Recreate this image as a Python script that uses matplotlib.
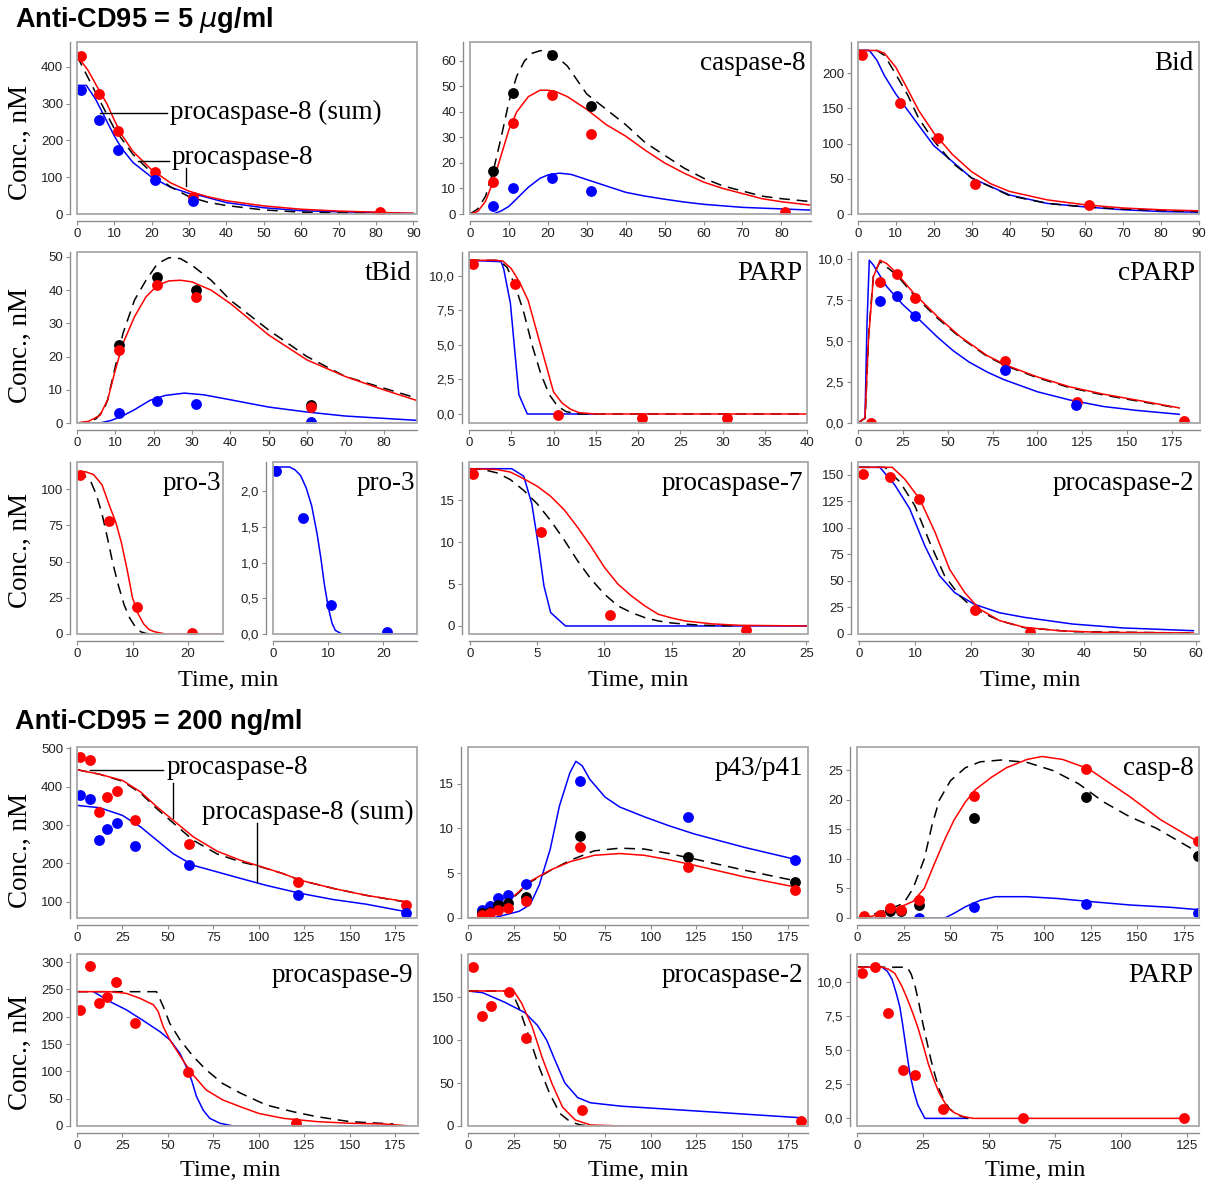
import matplotlib
matplotlib.use('Agg')
import matplotlib.pyplot as plt
from matplotlib.patches import Rectangle
from matplotlib.ticker import FuncFormatter

plt.rcParams['font.family'] = 'Liberation Sans'

W, H = 1210, 1187
fig = plt.figure(figsize=(W / 100, H / 100), dpi=100)

SERIF = 'Liberation Serif'
RED = '#ff0000'
BLUE = '#0000ff'
BLACK = '#000000'

# ---------------- Anti-CD95 = 5 ug/ml ----------------
# procaspase-8
pc8_t_red = [0, 3, 6, 8, 10, 12, 15, 20, 25, 30, 35, 40, 50, 60, 70, 80, 85, 90]
pc8_v_red = [432, 390, 335, 300, 255, 215, 170, 120, 85, 62, 47, 36, 22, 13, 8, 5, 3, 2]
pc8_t_blue = [0, 2.5, 5, 7, 10, 12, 15, 20, 25, 30, 33, 40, 50, 60, 70, 80, 85, 90]
pc8_v_blue = [350, 350, 312, 272, 212, 178, 140, 100, 73, 56, 50, 31, 17, 9, 6, 4, 2, 1]
pc8_t_blk = [0, 5, 10, 15, 20, 25, 30, 35, 40, 50, 60, 70, 80, 90]
pc8_v_blk = [430, 330, 232, 162, 112, 74, 47, 32, 23, 11, 5, 3, 2, 1]
pc8_dt_red = [1, 6, 11, 21, 31, 81]
pc8_dv_red = [430, 327, 225, 115, 47, 5]
pc8_dt_blue = [1, 6, 11, 21, 31]
pc8_dv_blue = [338, 257, 175, 92, 35]

# caspase-8
c8_t_blk = [0, 2, 4, 6, 8, 10, 12, 14, 16, 18, 20, 22, 25, 30, 35, 40, 45, 50, 55, 60, 65, 70, 75, 80, 88]
c8_v_blk = [0, 2, 7, 17, 30, 44, 54, 60, 63, 64, 64, 62, 58, 47, 41, 35, 28, 23, 18, 14, 11, 9, 7, 6, 4.8]
c8_t_red = [0, 2, 4, 6, 8, 10, 12, 15, 18, 20, 22, 25, 30, 35, 40, 45, 50, 55, 60, 65, 70, 75, 80, 88]
c8_v_red = [0, 1, 5, 13, 23, 33, 40, 46, 48.5, 48.5, 48, 46, 41, 35, 30.5, 25, 20, 16, 12.5, 10, 8, 6, 4.8, 3.4]
c8_t_blue = [0, 6, 8, 10, 12, 15, 18, 20, 23, 26, 30, 35, 40, 45, 50, 55, 60, 70, 80, 88]
c8_v_blue = [0, 0, 1.2, 3, 6, 10.5, 14, 15.3, 16, 15.5, 13.5, 11, 8.5, 7, 5.8, 4.7, 3.8, 2.6, 2, 1.5]
c8_dt_blk = [6, 11, 21, 31]
c8_dv_blk = [17, 47.5, 62.5, 42.5]
c8_dt_red = [6, 11, 21, 31, 81]
c8_dv_red = [12.5, 35.5, 46.5, 31.5, 0.8]
c8_dt_blue = [6, 11, 21, 31]
c8_dv_blue = [3, 10, 14, 9]

# Bid
bid_t_red = [0, 5, 7, 10, 13, 16, 20, 25, 30, 35, 40, 50, 60, 70, 80, 90]
bid_v_red = [232, 232, 228, 208, 178, 147, 115, 84, 60, 43, 32, 20, 13, 8.5, 6, 4.5]
bid_t_blue = [0, 3, 5, 7, 10, 13, 16, 20, 25, 30, 40, 50, 60, 70, 80, 90]
bid_v_blue = [232, 232, 218, 196, 170, 148, 126, 97, 74, 51, 27, 15, 10, 6, 3.5, 2.5]
bid_t_blk = [0, 5, 7, 10, 13, 16, 20, 25, 30, 40, 50, 60, 70, 80, 90]
bid_v_blk = [232, 232, 225, 198, 170, 136, 104, 72, 51, 26, 15, 10, 7, 5, 3.5]
bid_dt_red = [1, 11, 21, 31, 61]
bid_dv_red = [226, 157, 108, 43, 13]

# tBid
tbid_t_blk = [0, 3, 5, 7, 8, 10, 12, 15, 18, 21, 24, 27, 30, 35, 40, 50, 60, 70, 80, 88.6]
tbid_v_blk = [0, 0.3, 1.3, 4, 7, 17, 27, 37, 43, 48, 49.8, 49.5, 47.5, 43, 37, 28, 20, 14, 10.5, 7.5]
tbid_t_red = [0, 3, 6, 8, 10, 12, 15, 18, 21, 24, 27, 30, 35, 40, 50, 60, 70, 80, 88.6]
tbid_v_red = [0, 0.5, 2.3, 7, 16, 24, 32, 38, 41.5, 42.8, 43, 42.5, 40, 36, 26.5, 19, 14, 10, 6.8]
tbid_t_blue = [0, 6, 9, 12, 15, 19, 23, 28, 33, 40, 50, 60, 70, 80, 88.6]
tbid_v_blue = [0, 0, 0.8, 2.2, 4, 6.8, 8.3, 9, 8.5, 7, 4.8, 3.3, 2.1, 1.4, 0.8]
tbid_dt = [11, 21, 31, 61]
tbid_dv_blk = [23.5, 44, 40, 5.5]
tbid_dv_red = [22, 41.5, 37.8, 4.8]
tbid_dv_blue = [3, 6.5, 5.7, 0.2]

# PARP (5 ug/ml)
parp_t_red = [0, 3, 4, 5, 6, 7, 8, 9, 10, 11, 12, 13, 15, 40]
parp_v_red = [11.1, 11.1, 11.05, 10.5, 9.5, 8.2, 6.0, 3.8, 1.6, 0.8, 0.35, 0.1, 0, 0]
parp_t_blk = [0, 3.5, 4.5, 5.5, 6.5, 7.5, 8.5, 9.5, 10.5, 11.5, 13, 40]
parp_v_blk = [11.1, 11.1, 10.6, 9.2, 7.3, 4.9, 2.9, 1.4, 0.55, 0.17, 0, 0]
parp_t_blue = [0, 3.8, 4.1, 4.9, 5.5, 5.9, 6.9, 15]
parp_v_blue = [11.1, 11.0, 10.5, 8, 4, 1.4, 0, 0]
parp_dt_red = [0.5, 5.5, 10.5, 20.5, 30.5]
parp_dv_red = [10.8, 9.4, -0.1, -0.3, -0.3]

# cPARP
cparp_t_blue = [0, 3.9, 5, 6.3, 8.6, 16, 25, 35, 44, 53, 62, 72, 81, 100, 118, 137, 155, 179]
cparp_v_blue = [0, 0.3, 6, 9.9, 9.6, 8.3, 7.2, 6.2, 5.25, 4.4, 3.7, 3.1, 2.65, 1.9, 1.4, 1.0, 0.77, 0.53]
cparp_t_red = [0, 3.9, 5.8, 8.6, 12.3, 16, 21.6, 31, 44, 57, 72, 83, 100, 118, 137, 155, 179]
cparp_v_red = [0, 0.3, 5, 8.9, 9.9, 9.7, 9.1, 7.9, 6.5, 5.25, 4.1, 3.5, 2.8, 2.2, 1.75, 1.4, 0.92]
cparp_t_blk = [0, 4, 6, 8.6, 12.3, 21.6, 31, 44, 57, 72, 83, 100, 118, 137, 155, 179]
cparp_v_blk = [0, 0.3, 5.5, 9, 9.8, 9.0, 7.8, 6.4, 5.2, 4.05, 3.45, 2.75, 2.15, 1.7, 1.35, 0.9]
cparp_dt_red = [7, 12.3, 21.9, 32, 82, 122, 181.8]
cparp_dv_red = [0, 8.6, 9.05, 7.6, 3.75, 1.3, 0.1]
cparp_dt_blue = [12.3, 21.9, 32, 82, 121.6]
cparp_dv_blue = [7.4, 7.75, 6.5, 3.2, 1.1]

# procaspase-3 (total / second form)
p3_t_red = [0, 1.5, 3, 4.5, 6, 7, 8, 9, 10, 11, 12, 13, 14, 16, 26.3]
p3_v_red = [112, 112, 110, 103, 87, 77, 63, 45, 25, 14, 7, 3, 1.5, 0, 0]
p3_t_blk = [0, 1, 2.4, 3.5, 4.5, 5.5, 6.5, 7.5, 8.5, 9.5, 10.5, 11.5, 12.5, 14]
p3_v_blk = [112, 110, 106, 96, 83, 66, 48, 33, 20, 11, 5, 1.5, 0.3, 0]
p3_dt_red = [0.6, 5.8, 10.8, 20.8]
p3_dv_red = [110, 78, 18.5, 0.8]
p3b_t_blue = [0, 3, 4, 5, 6, 7, 8, 8.7, 9.3, 10, 10.7, 11.3, 12.5, 26.1]
p3b_v_blue = [2.34, 2.34, 2.3, 2.22, 2.05, 1.8, 1.4, 1.05, 0.7, 0.38, 0.15, 0.05, 0, 0]
p3b_dt_blue = [0.5, 5.4, 10.5, 20.7]
p3b_dv_blue = [2.29, 1.63, 0.4, 0.03]

# procaspase-7
p7_t_blue = [0, 3.1, 4, 4.6, 5.1, 5.5, 6, 7.1, 25]
p7_v_blue = [18.8, 18.8, 17.9, 14.6, 9.5, 4.8, 1.6, 0, 0]
p7_t_red = [0, 2, 3, 4, 5, 6, 7, 8, 9, 10, 11, 12, 13, 14, 15, 16, 18, 20, 25]
p7_v_red = [18.8, 18.7, 18.4, 17.6, 16.7, 15.5, 13.9, 11.8, 9.5, 7, 5, 3.6, 2.4, 1.4, 0.95, 0.6, 0.25, 0.08, 0]
p7_t_blk = [0, 1, 2, 3, 4, 5, 6, 7, 8, 9, 10, 11, 12, 13, 14, 15, 17, 20]
p7_v_blk = [18.8, 18.7, 18.3, 17.5, 16.2, 14.6, 12.6, 10.3, 7.8, 5.6, 3.8, 2.4, 1.6, 1.0, 0.6, 0.35, 0.1, 0]
p7_dt_red = [0.25, 5.3, 10.4, 20.5]
p7_dv_red = [18.2, 11.2, 1.3, -0.5]

# procaspase-2 (5 ug/ml)
p2_t_blue = [0, 3.7, 6.4, 9, 11.7, 14.3, 17, 20.5, 25, 29.4, 38, 47, 52, 59.5]
p2_v_blue = [157, 157, 140, 118, 83, 55, 39, 28, 20, 15.7, 9.4, 5.7, 4.7, 3.1]
p2_t_red = [0, 5.9, 8.1, 10.8, 13.5, 16.1, 18.8, 21.4, 25, 29.4, 35.6, 42.7, 59.5]
p2_v_red = [157, 157, 146, 127, 96, 61, 39, 23.6, 12.6, 6.3, 3.1, 1.6, 1]
p2_t_blk = [0, 4.6, 7.3, 9.9, 12.6, 15.2, 17.9, 20.5, 25, 29.4, 38, 59.5]
p2_v_blk = [157, 157, 143, 121, 86, 55, 36, 23.6, 12.6, 6, 2.2, 0.9]
p2_dt_red = [0.7, 5.5, 10.7, 20.6, 30.5]
p2_dv_red = [151, 148, 127, 23, 1.5]

# ---------------- Anti-CD95 = 200 ng/ml ----------------
# procaspase-8
lo_pc8_t_red = [0, 12.5, 25, 35, 44, 53, 64, 77, 90, 99, 113, 123, 141, 159, 181.4]
lo_pc8_v_red = [444, 432, 416, 386, 347, 312, 269, 232, 208, 195, 174, 156, 135, 117, 100]
lo_pc8_t_blk = [0, 12.5, 25, 35, 44, 53, 64, 77, 90, 99, 113, 123, 141, 159, 181.4]
lo_pc8_v_blk = [444, 432, 414, 383, 342, 305, 260, 225, 204, 194, 174, 156, 135, 117, 99]
lo_pc8_t_blue = [0, 12.5, 25, 35, 44, 53, 64, 77, 90, 104, 123, 141, 159, 181.4]
lo_pc8_v_blue = [351, 345, 325, 295, 260, 225, 195, 178, 161, 143, 122, 106, 94, 74]
lo_pc8_dt = [1.8, 7.3, 11.9, 16.7, 22, 31.8, 61.7, 121.7, 181]
lo_pc8_dv_red = [478, 468, 334, 373, 388, 314, 250, 152, 91]
lo_pc8_dv_blue = [377, 367, 262, 290, 305, 245, 195, 119, 70]

# p43/p41
p43_t_blue = [0, 15, 28, 34, 39, 45, 50, 55.7, 59, 62.5, 66.6, 75, 83, 96.5, 110, 123.6, 151, 178]
p43_v_blue = [0, 0.07, 0.75, 1.5, 3.7, 7.7, 12.5, 16.2, 17.5, 17, 15.5, 13.5, 12.4, 11.3, 10.3, 9.4, 7.9, 6.6]
p43_t_red = [0, 7, 15, 26, 34, 45, 56, 69, 83, 96.5, 110, 123.6, 151, 178]
p43_v_red = [0, 0, 1.1, 2.6, 4.1, 5.35, 6.3, 7.0, 7.2, 7.0, 6.5, 5.9, 4.6, 3.5]
p43_t_blk = [0, 7, 15, 26, 34, 45, 56, 69, 83, 96.5, 110, 123.6, 151, 178]
p43_v_blk = [0, 0, 1.0, 2.5, 4.0, 5.3, 6.45, 7.5, 7.8, 7.7, 7.2, 6.6, 5.35, 4.2]
p43_dt = [7.7, 12, 16.5, 22, 32, 61.5, 120.5, 179]
p43_dv_blue = [0.9, 1.3, 2.2, 2.6, 3.8, 15.3, 11.25, 6.45]
p43_dv_blk = [0.55, 0.7, 1.5, 1.7, 2.3, 9.2, 6.8, 4.0]
p43_dv_red = [0.37, 0.55, 0.9, 1.1, 1.85, 7.9, 5.7, 3.1]

# casp-8
lc8_t_red = [0, 8, 22, 30, 36, 41, 47, 52, 58, 63, 72, 80, 91, 99, 110, 124, 146, 162.5, 183]
lc8_v_red = [0, 0.3, 1.7, 2.8, 5, 8.85, 13.3, 16.6, 19.6, 21.6, 23.8, 25.4, 26.8, 27.3, 26.8, 25.2, 20.5, 16.6, 12.8]
lc8_t_blk = [0, 8, 19, 25, 30, 36, 40, 44, 50, 58, 66, 77, 91, 105, 118.5, 132, 146, 160, 183]
lc8_v_blk = [0, 0.55, 1.7, 2.5, 5, 10, 15.5, 19.9, 23.2, 25.4, 26.4, 26.7, 26.3, 24.9, 22.7, 19.6, 17.1, 15.2, 11]
lc8_t_blue = [0, 47, 52, 58, 66, 74, 91, 107, 124, 146, 168, 183]
lc8_v_blue = [0, 0, 0.8, 1.9, 3.0, 3.6, 3.6, 3.3, 2.8, 2.2, 1.8, 1.4]
lc8_dt_red = [4, 12.4, 17.9, 23.4, 33, 62.5, 122.5, 182.5]
lc8_dv_red = [0.3, 0.55, 1.65, 1.4, 3, 20.7, 25.2, 13]
lc8_dt_blk = [17.9, 23.4, 33, 62.5, 122.5, 182.5]
lc8_dv_blk = [1.2, 1.1, 2.2, 16.9, 20.5, 10.5]
lc8_dt_blue = [33, 62.5, 122.5, 182.5]
lc8_dv_blue = [0, 1.9, 2.4, 0.9]

# procaspase-9
p9_t_red = [0, 18, 27, 34.5, 42, 44.6, 47.4, 51, 54.7, 59.3, 64, 71, 80, 90, 100, 113.5, 132, 150, 168.6, 181.4]
p9_v_red = [246, 246, 243, 234, 222, 210, 182, 158, 139, 115, 93, 66, 48, 35, 23, 14, 8, 5, 3.7, 0.5]
p9_t_blk = [0, 43.7, 47.4, 51, 56.6, 64, 71, 80, 90, 104, 119, 132, 150, 174]
p9_v_blk = [246, 246, 219, 188, 158, 127, 103, 78, 60, 38.5, 26, 17, 8, 3.7]
p9_t_blue = [9, 18, 27, 36, 45.5, 51, 56.6, 60, 63, 65.7, 69.4, 73, 78.6, 86, 174]
p9_v_blue = [246, 228, 213, 194, 173, 158, 133, 109, 84, 54, 29, 14, 5, 0, 0]
p9_dt_red = [1.8, 7, 11.9, 16.7, 21.7, 31.8, 61.1, 120.5]
p9_dv_red = [212, 293, 226, 236, 264, 188, 98, 6]

# procaspase-2 (200 ng/ml)
lp2_t_blue = [0, 8, 20, 31, 38, 43, 47.5, 53, 60, 67, 84, 112, 140, 168, 182]
lp2_v_blue = [157, 155, 144, 132, 117, 100, 77, 50, 33, 27, 23, 19.2, 15.4, 11.5, 9.6]
lp2_t_red = [0, 25, 29.3, 35, 40.5, 46, 51.7, 58.7, 67, 84, 182]
lp2_v_red = [157, 157, 143, 116, 80, 49, 22, 7, 1.2, 0, 0]
lp2_t_blk = [0, 23.7, 28, 33.5, 39, 44.7, 50.3, 55.9, 61.5, 67]
lp2_v_blk = [157, 157, 137, 103, 68, 37.6, 14.6, 5, 1.2, 0]
lp2_dt_red = [2.8, 7.8, 12.6, 22.3, 32, 62.3, 182]
lp2_dv_red = [185, 128, 139, 156, 102.5, 19, 5.8]

# PARP (200 ng/ml)
lparp_t_blue = [0, 9.5, 11.5, 13.3, 15, 16.2, 17.2, 18.1, 19, 20, 21.5, 23, 25.7, 42]
lparp_v_blue = [11.1, 11.1, 10.8, 10.2, 9.1, 8.2, 7.0, 5.8, 4.6, 3.3, 2.0, 1.0, 0, 0]
lparp_t_red = [0, 9.5, 12, 14.3, 17, 19, 21, 23, 25, 27, 29, 31, 34.3, 37, 40, 44, 125]
lparp_v_red = [11.1, 11.1, 10.95, 10.65, 9.7, 8.8, 7.8, 6.7, 5.4, 4.0, 2.9, 1.9, 0.8, 0.4, 0.15, 0, 0]
lparp_t_blk = [0, 19, 20.5, 22, 23.5, 25, 26.5, 28, 29.5, 31, 33, 35, 38, 42]
lparp_v_blk = [11.1, 11.1, 10.6, 9.7, 8.4, 6.9, 5.6, 4.3, 3.2, 2.2, 1.3, 0.7, 0.25, 0]
lparp_dt_red = [1.9, 6.7, 11.8, 17.5, 21.9, 32.4, 62.9, 123.8]
lparp_dv_red = [10.65, 11.15, 7.73, 3.54, 3.15, 0.7, 0, 0]

comma = FuncFormatter(lambda v, p: ('%.1f' % v).replace('.', ','))


def panel(x0, x1, ytop, ybot, xlim, ylim, xticks, yticks, title=None, fmt=None):
    ax = fig.add_axes([x0 / W, 1 - ybot / H, (x1 - x0) / W, (ybot - ytop) / H])
    ax.spines['top'].set_visible(False)
    ax.spines['right'].set_visible(False)
    for s in ['left', 'bottom']:
        ax.spines[s].set_position(('outward', 5))
        ax.spines[s].set_color('#8c8c8c')
        ax.spines[s].set_linewidth(1.0)
    ax.add_patch(Rectangle((0, 0), 1, 1, transform=ax.transAxes, fill=False,
                           edgecolor='#a8a8a8', lw=1.3, clip_on=False, zorder=6))
    ax.set_xlim(*xlim)
    ax.set_ylim(*ylim)
    ax.set_xticks(xticks)
    ax.set_yticks(yticks)
    if fmt is not None:
        ax.yaxis.set_major_formatter(fmt)
    ax.tick_params(direction='out', length=3, width=0.8, color='#8c8c8c',
                   labelsize=9.5, pad=2, labelcolor='#222222')
    if title:
        ax.text(0.985, 0.95, title, transform=ax.transAxes, ha='right', va='top',
                family=SERIF, fontsize=19.5, zorder=7)
    return ax


def curves(ax, blue=None, blk=None, red=None):
    if blue:
        ax.plot(blue[0], blue[1], color=BLUE, lw=1.1, zorder=2)
    if blk:
        ax.plot(blk[0], blk[1], color=BLACK, lw=1.1, dashes=(7, 4.5), zorder=3)
    if red:
        ax.plot(red[0], red[1], color=RED, lw=1.1, zorder=4)


def dots(ax, t, v, c):
    ax.plot(t, v, 'o', color=c, ms=7.8, mec='none', zorder=5)


# ---- row A ----
ax = panel(77, 417, 42, 214, (0, 91), (0, 468), range(0, 91, 10), range(0, 401, 100))
curves(ax, (pc8_t_blue, pc8_v_blue), (pc8_t_blk, pc8_v_blk), (pc8_t_red, pc8_v_red))
dots(ax, pc8_dt_red, pc8_dv_red, RED)
dots(ax, pc8_dt_blue, pc8_dv_blue, BLUE)
ax.plot([6.2, 24.2], [274, 274], color='k', lw=1.0, zorder=6)
ax.text(24.8, 276, 'procaspase-8 (sum)', family=SERIF, fontsize=19.5, va='center', zorder=7)
ax.plot([16.3, 24.6], [145, 145], color='k', lw=1.0, zorder=6)
ax.plot([29.1, 29.1], [126, 77], color='k', lw=1.0, zorder=6)
ax.text(25.4, 155, 'procaspase-8', family=SERIF, fontsize=19.5, va='center', zorder=7)

ax = panel(470, 811, 42, 214, (0, 87.6), (0, 67.4), range(0, 81, 10), range(0, 61, 10), 'caspase-8')
curves(ax, (c8_t_blue, c8_v_blue), (c8_t_blk, c8_v_blk), (c8_t_red, c8_v_red))
dots(ax, c8_dt_blk, c8_dv_blk, BLACK)
dots(ax, c8_dt_red, c8_dv_red, RED)
dots(ax, c8_dt_blue, c8_dv_blue, BLUE)

ax = panel(858, 1199, 42, 214, (0, 90), (0, 244), range(0, 91, 10), range(0, 201, 50), 'Bid')
curves(ax, (bid_t_blue, bid_v_blue), (bid_t_blk, bid_v_blk), (bid_t_red, bid_v_red))
dots(ax, bid_dt_red, bid_dv_red, RED)

# ---- row B ----
ax = panel(77, 417, 252, 423, (0, 88.7), (0, 51.5), range(0, 81, 10), range(0, 51, 10), 'tBid')
curves(ax, (tbid_t_blue, tbid_v_blue), (tbid_t_blk, tbid_v_blk), (tbid_t_red, tbid_v_red))
dots(ax, tbid_dt, tbid_dv_blk, BLACK)
dots(ax, tbid_dt, tbid_dv_red, RED)
dots(ax, tbid_dt, tbid_dv_blue, BLUE)

ax = panel(469, 807, 252, 423, (0, 40), (-0.65, 11.7), range(0, 41, 5), [0, 2.5, 5, 7.5, 10], 'PARP', comma)
curves(ax, (parp_t_blue, parp_v_blue), (parp_t_blk, parp_v_blk), (parp_t_red, parp_v_red))
dots(ax, parp_dt_red, parp_dv_red, RED)

ax = panel(858, 1200, 252, 423, (0, 190.6), (0, 10.4), range(0, 176, 25), [0, 2.5, 5, 7.5, 10], 'cPARP', comma)
curves(ax, (cparp_t_blue, cparp_v_blue), (cparp_t_blk, cparp_v_blk), (cparp_t_red, cparp_v_red))
dots(ax, cparp_dt_red, cparp_dv_red, RED)
dots(ax, cparp_dt_blue, cparp_dv_blue, BLUE)

# ---- row C ----
ax = panel(77, 223, 462, 634, (0, 26.3), (0, 118.7), [0, 10, 20], range(0, 101, 25), 'pro-3')
curves(ax, None, (p3_t_blk, p3_v_blk), (p3_t_red, p3_v_red))
dots(ax, p3_dt_red, p3_dv_red, RED)

ax = panel(273, 417, 462, 634, (0, 26.1), (0, 2.41), [0, 10, 20], [0, 0.5, 1, 1.5, 2], 'pro-3', comma)
curves(ax, (p3b_t_blue, p3b_v_blue))
dots(ax, p3b_dt_blue, p3b_dv_blue, BLUE)

ax = panel(469, 808, 462, 634, (-0.07, 25.13), (-0.96, 19.6), range(0, 26, 5), range(0, 16, 5), 'procaspase-7')
curves(ax, (p7_t_blue, p7_v_blue), (p7_t_blk, p7_v_blk), (p7_t_red, p7_v_red))
dots(ax, p7_dt_red, p7_dv_red, RED)

ax = panel(858, 1199, 462, 634, (-0.2, 60.5), (1.5, 162), range(0, 61, 10), range(0, 151, 25), 'procaspase-2')
curves(ax, (p2_t_blue, p2_v_blue), (p2_t_blk, p2_v_blk), (p2_t_red, p2_v_red))
dots(ax, p2_dt_red, p2_dv_red, RED)

# ---- row D ----
ax = panel(77, 417, 747, 918, (0, 187), (58, 503), range(0, 176, 25), range(100, 501, 100))
curves(ax, (lo_pc8_t_blue, lo_pc8_v_blue), (lo_pc8_t_blk, lo_pc8_v_blk), (lo_pc8_t_red, lo_pc8_v_red))
dots(ax, lo_pc8_dt, lo_pc8_dv_red, RED)
dots(ax, lo_pc8_dt, lo_pc8_dv_blue, BLUE)
ax.plot([7.2, 47.4], [443, 443], color='k', lw=1.0, zorder=6)
ax.plot([52.9, 52.9], [409, 318], color='k', lw=1.0, zorder=6)
ax.text(49.5, 450, 'procaspase-8', family=SERIF, fontsize=19.5, va='center', zorder=7)
ax.plot([99.2, 99.2], [305, 152], color='k', lw=1.0, zorder=6)
ax.text(68.9, 332, 'procaspase-8 (sum)', family=SERIF, fontsize=19.5, va='center', zorder=7)

ax = panel(468, 808, 747, 918, (0, 186), (0, 19.1), range(0, 176, 25), range(0, 16, 5), 'p43/p41')
curves(ax, (p43_t_blue, p43_v_blue), (p43_t_blk, p43_v_blk), (p43_t_red, p43_v_red))
dots(ax, p43_dt, p43_dv_blue, BLUE)
dots(ax, p43_dt, p43_dv_blk, BLACK)
dots(ax, p43_dt, p43_dv_red, RED)

ax = panel(857, 1199, 747, 918, (0, 183), (0, 28.9), range(0, 176, 25), range(0, 26, 5), 'casp-8')
curves(ax, (lc8_t_blue, lc8_v_blue), (lc8_t_blk, lc8_v_blk), (lc8_t_red, lc8_v_red))
dots(ax, lc8_dt_blue, lc8_dv_blue, BLUE)
dots(ax, lc8_dt_blk, lc8_dv_blk, BLACK)
dots(ax, lc8_dt_red, lc8_dv_red, RED)

# ---- row E ----
ax = panel(77, 418, 954, 1126, (0, 187.5), (0, 315), range(0, 176, 25), range(0, 301, 50), 'procaspase-9')
curves(ax, (p9_t_blue, p9_v_blue), (p9_t_blk, p9_v_blk), (p9_t_red, p9_v_red))
dots(ax, p9_dt_red, p9_dv_red, RED)

ax = panel(468, 808, 954, 1126, (0, 186), (0, 200), range(0, 176, 25), range(0, 151, 50), 'procaspase-2')
curves(ax, (lp2_t_blue, lp2_v_blue), (lp2_t_blk, lp2_v_blk), (lp2_t_red, lp2_v_red))
dots(ax, lp2_dt_red, lp2_dv_red, RED)

ax = panel(857, 1199, 954, 1126, (0, 129.5), (-0.56, 12.07), range(0, 126, 25), [0, 2.5, 5, 7.5, 10], 'PARP', comma)
curves(ax, (lparp_t_blue, lparp_v_blue), (lparp_t_blk, lparp_v_blk), (lparp_t_red, lparp_v_red))
dots(ax, lparp_dt_red, lparp_dv_red, RED)

# ---- labels ----
for yc in [142, 345, 550, 850, 1052]:
    fig.text(20 / W, 1 - yc / H, 'Conc., nM', rotation=90, family=SERIF, fontsize=19.5,
             ha='center', va='center')
for xc, yc in [(228, 680), (638, 680), (1030, 680), (230, 1170), (638, 1170), (1035, 1170)]:
    fig.text(xc / W, 1 - yc / H, 'Time, min', family=SERIF, fontsize=17.5, ha='center', va='center')

fig.text(15 / W, 1 - 20 / H, r'Anti-CD95 = 5 $\mu$g/ml', fontsize=19.5, fontweight='bold',
         ha='left', va='center')
fig.text(15 / W, 1 - 722 / H, 'Anti-CD95 = 200 ng/ml', fontsize=19.5, fontweight='bold',
         ha='left', va='center')

fig.savefig('out.png', dpi=100, facecolor='white')
